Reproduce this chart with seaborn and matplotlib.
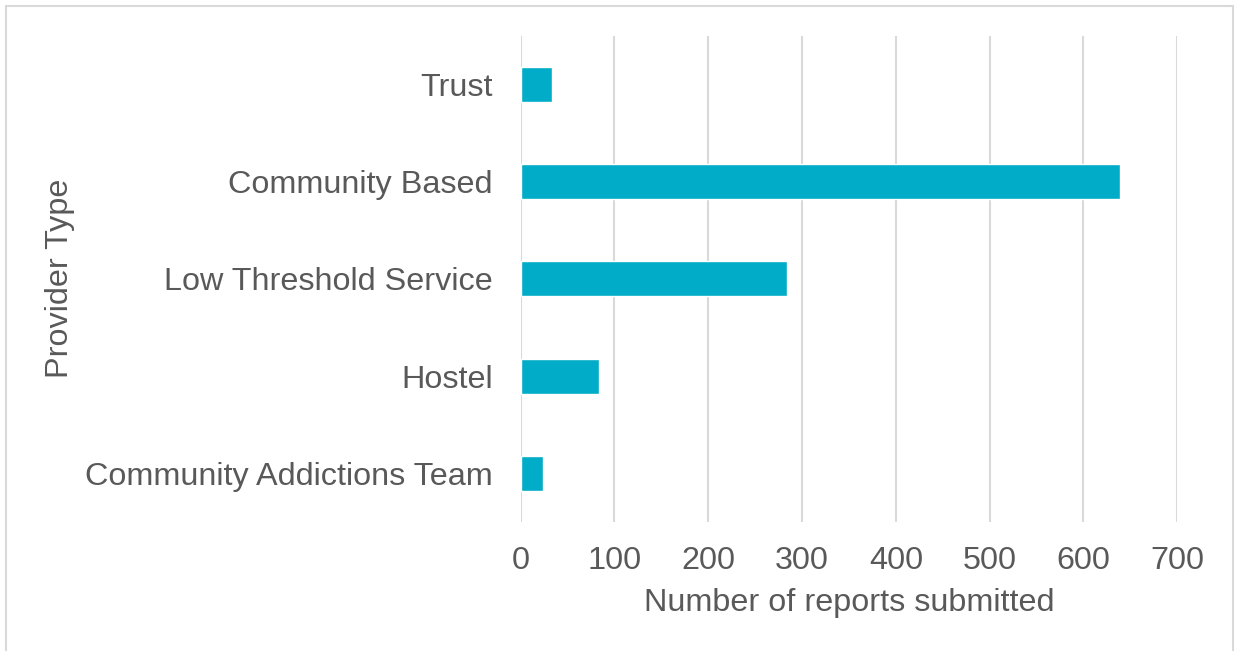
import matplotlib
matplotlib.use("Agg")
import matplotlib.pyplot as plt
import seaborn as sns
from matplotlib.patches import Rectangle

# Reports submitted by provider type
providers = ["Trust", "Community Based", "Low Threshold Service", "Hostel",
             "Community Addictions Team"]
reports = [33, 639, 284, 83, 24]
x_ticks = [0, 100, 200, 300, 400, 500, 600, 700]

sns.set_theme(style="white")
plt.rcParams["font.family"] = ["Liberation Sans", "DejaVu Sans"]

TEXT = "#595959"
GRID = "#d9d9d9"
BAR = "#00ACC8"
FS = 23.3

W, H = 1237, 651
fig = plt.figure(figsize=(W / 100, H / 100), dpi=100)
fig.patch.set_facecolor("white")

ax = fig.add_axes([520.7 / W, (H - 521.9) / H, 656.5 / W, 486.2 / H])
sns.barplot(x=reports, y=providers, orient="h", color=BAR, saturation=1,
            width=0.36, ax=ax)

ax.set_xlim(0, 700)
ax.set_ylim(4.5, -0.5)
ax.set_xticks(x_ticks)
ax.set_xticklabels([str(t) for t in x_ticks])
ax.xaxis.grid(True, color=GRID, lw=1.5)
ax.yaxis.grid(False)
ax.set_axisbelow(True)
for s in ax.spines.values():
    s.set_visible(False)

ax.tick_params(axis="both", length=0, labelsize=FS, colors=TEXT)
ax.tick_params(axis="y", pad=20)
ax.tick_params(axis="x", pad=17)
ax.set_xlabel("Number of reports submitted", fontsize=FS, color=TEXT, labelpad=9)
ax.set_ylabel("")

fig.text(60 / W, 1 - 278.8 / H, "Provider Type", rotation=90, ha="center",
         va="center", fontsize=FS, color=TEXT)

# chart area frame
fig.patches.append(Rectangle((6 / W, -0.05), (1233 - 6) / W, (H - 6) / H + 0.05,
                             transform=fig.transFigure, fill=False,
                             edgecolor=GRID, lw=1.5))

fig.savefig("out.png", dpi=100)
